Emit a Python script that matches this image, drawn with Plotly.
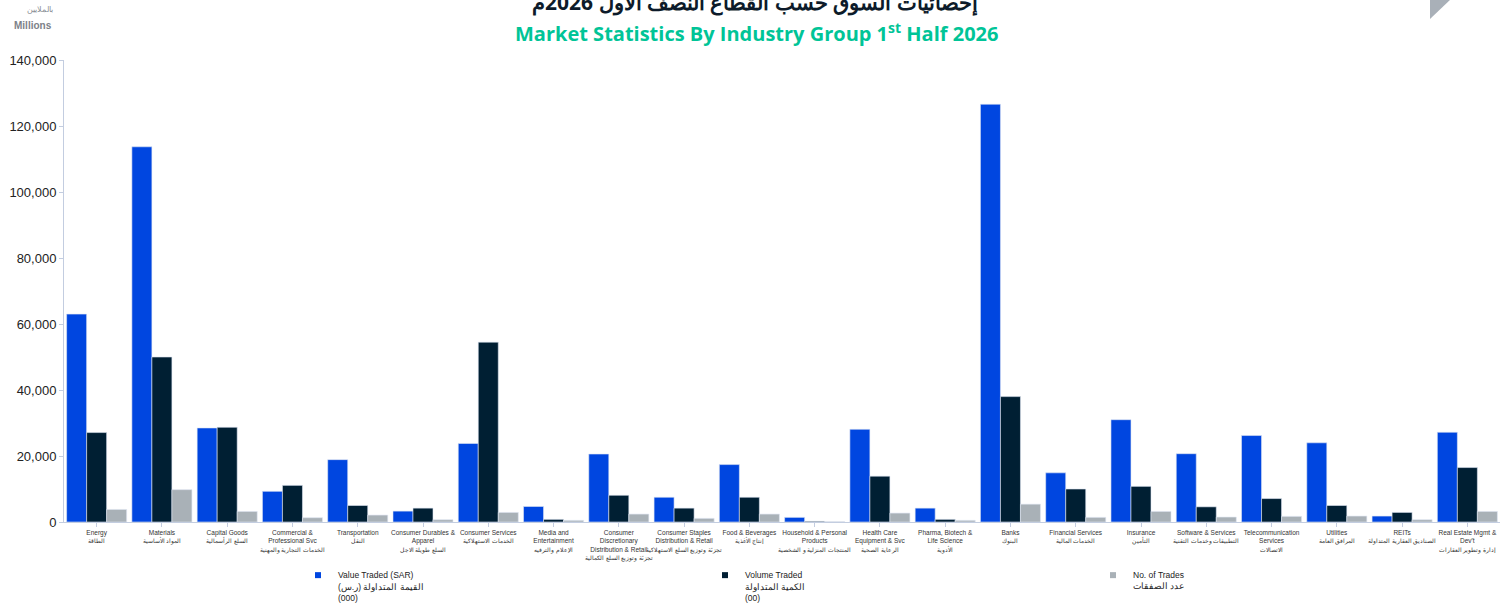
import plotly.graph_objects as go

categories_en = [
    "Energy", "Materials", "Capital Goods", "Commercial &<br>Professional Svc",
    "Transportation", "Consumer Durables &<br>Apparel", "Consumer Services",
    "Media and<br>Entertainment", "Consumer<br>Discretionary<br>Distribution & Retail",
    "Consumer Staples<br>Distribution & Retail", "Food & Beverages",
    "Household & Personal<br>Products", "Health Care<br>Equipment & Svc",
    "Pharma, Biotech &<br>Life Science", "Banks", "Financial Services", "Insurance",
    "Software & Services", "Telecommunication<br>Services", "Utilities", "REITs",
    "Real Estate Mgmt &<br>Dev't",
]
categories_ar = [
    "الطاقة", "المواد الأساسية", "السلع الرأسمالية", "الخدمات التجارية والمهنية",
    "النقل", "السلع طويلة الاجل", "الخدمات الاستهلاكية", "الإعلام والترفيه",
    "تجزئة وتوزيع السلع الكمالية", "تجزئة وتوزيع السلع الاستهلاكية", "إنتاج الأغذية",
    "المنتجات المنزلية و الشخصية", "الرعاية الصحية", "الأدوية", "البنوك",
    "الخدمات المالية", "التأمين", "التطبيقات وخدمات التقنية", "الاتصالات",
    "المرافق العامة", "الصناديق العقارية المتداولة", "إدارة وتطوير العقارات",
]
value_traded = [63000, 113700, 28500, 9300, 18900, 3300, 23800, 4700, 20600, 7500,
                17400, 1400, 28100, 4200, 126600, 14900, 31000, 20700, 26200, 24000,
                1800, 27200]
volume_traded = [27100, 50000, 28700, 11100, 5000, 4200, 54500, 800, 8100, 4200,
                 7500, 200, 13900, 800, 38000, 10000, 10800, 4600, 7100, 5000,
                 2900, 16500]
no_of_trades = [3800, 9800, 3200, 1300, 2100, 700, 2900, 500, 2400, 1100,
                2400, 100, 2700, 500, 5400, 1400, 3200, 1500, 1700, 1800,
                700, 3200]
y_ticks = [0, 20000, 40000, 60000, 80000, 100000, 120000, 140000]

series_names = [
    "Value Traded (SAR)<br>القيمة المتداولة (ر.س)<br>(000)",
    "Volume Traded<br>الكمية المتداولة<br>(00)",
    "No. of Trades<br>عدد الصفقات",
]
colors = ["#0046E0", "#001F33", "#A9B1B7"]
legend_ids = ["legend", "legend2", "legend3"]
legend_text_x = [336, 743, 1131]

PL, PW, PT, PH = 64, 1436, 60, 461.7

x_idx = list(range(len(categories_en)))
tick_text = [f"{e}<br><span style='font-size:5.5px'>{a}</span>" for e, a in zip(categories_en, categories_ar)]

fig = go.Figure()
for vals, col in zip([value_traded, volume_traded, no_of_trades], colors):
    fig.add_trace(go.Bar(x=x_idx, y=vals, marker=dict(color=col, line=dict(color="#dfe6f4", width=0.6)),
                         showlegend=False, hoverinfo="y"))
for name, col, lid in zip(series_names, colors, legend_ids):
    fig.add_trace(go.Scatter(x=[None], y=[None], mode="markers", name=name, legend=lid,
                             marker=dict(symbol="square", size=6, color=col)))

legend_common = dict(orientation="v", xanchor="left", yanchor="top", y=-0.089,
                     font=dict(size=8.5, color="#222", family="Liberation Sans, Arial"),
                     valign="top", bgcolor="rgba(0,0,0,0)", itemclick=False, borderwidth=0)
legends = {}
for lid, tx in zip(legend_ids, legend_text_x):
    legends[lid] = dict(legend_common, x=(tx - 38 - PL) / PW)

fig.update_layout(
    width=1501, height=604,
    margin=dict(l=PL, r=1, t=PT, b=82, autoexpand=False),
    paper_bgcolor="white", plot_bgcolor="white",
    barmode="group", bargap=0.08, bargroupgap=0,
    font=dict(family="Liberation Sans, Arial, sans-serif", color="#222"),
    showlegend=True,
    **legends,
    xaxis=dict(tickmode="array", tickvals=x_idx, ticktext=tick_text, range=[-0.5, 21.5],
               tickfont=dict(size=6.5, color="#333"), showline=True, linecolor="#c3cde0",
               linewidth=1, ticks="outside", tickson="boundaries", ticklen=4,
               tickcolor="#c3cde0", showgrid=False, zeroline=False, tickangle=0, automargin=False),
    yaxis=dict(range=[0, 140000], tickvals=y_ticks, tickformat=",", showgrid=False,
               zeroline=False, showline=True, linecolor="#c3cde0", linewidth=1,
               ticks="outside", ticklen=4, tickcolor="#c3cde0", automargin=False,
               tickfont=dict(size=13, color="#222")),
    annotations=[
        dict(text="<b>إحصائيات السوق حسب القطاع النصف الأول 2026م</b>", xref="paper", yref="paper",
             x=(755 - PL) / PW, y=1 + (PT - 2) / PH, xanchor="center", yanchor="middle", showarrow=False,
             font=dict(family="Noto Sans, Open Sans", size=21, color="#0d1b2a")),
        dict(text="<b>Market Statistics By Industry Group 1<sup>st</sup> Half 2026</b>", xref="paper", yref="paper",
             x=(756 - PL) / PW, y=1 + (PT - 33) / PH, xanchor="center", yanchor="middle", showarrow=False,
             font=dict(family="Open Sans", size=20, color="#00C497")),
        dict(text="بالملايين", xref="paper", yref="paper", x=(40 - PL) / PW, y=1 + (PT - 10) / PH,
             xanchor="center", yanchor="middle", showarrow=False,
             font=dict(size=8, color="#8a8f96")),
        dict(text="<b>Millions</b>", xref="paper", yref="paper", x=(33 - PL) / PW, y=1 + (PT - 26) / PH,
             xanchor="center", yanchor="middle", showarrow=False,
             font=dict(size=10, color="#7c8188")),
    ],
    shapes=[
        dict(type="path", xref="paper", yref="paper",
             path=f"M {(1430-PL)/PW},{1+PT/PH} L {(1450-PL)/PW},{1+PT/PH} L {(1430-PL)/PW},{1+(PT-19)/PH} Z",
             fillcolor="#A9B0B8", line=dict(width=0)),
    ],
)

fig.write_html("out.html")
